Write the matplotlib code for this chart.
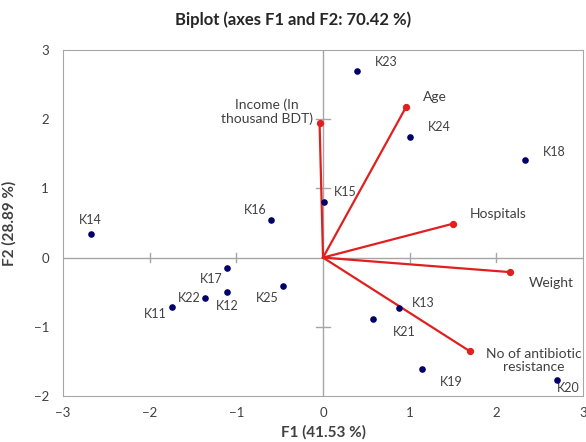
import matplotlib.pyplot as plt

# observations (F1, F2)
obs_labels = ['K23', 'K24', 'K18', 'K15', 'K16', 'K14', 'K17', 'K12',
              'K22', 'K11', 'K25', 'K13', 'K21', 'K19', 'K20']
obs_f1 = [0.39, 1.00, 2.33, 0.01, -0.60, -2.68, -1.11, -1.11,
          -1.36, -1.74, -0.46, 0.88, 0.58, 1.14, 2.70]
obs_f2 = [2.69, 1.74, 1.41, 0.81, 0.54, 0.34, -0.15, -0.50,
          -0.59, -0.72, -0.41, -0.73, -0.89, -1.61, -1.77]

# variables (loadings, scaled)
var_labels = ['Income (In\nthousand BDT)', 'Age', 'Hospitals', 'Weight',
              'No of antibiotic\nresistance']
var_f1 = [-0.04, 0.96, 1.50, 2.16, 1.69]
var_f2 = [1.95, 2.18, 0.49, -0.21, -1.35]

# label offsets in points (dx, dy, ha)
obs_offsets = {
    'K23': (13, 7, 'left'),
    'K24': (13, 7, 'left'),
    'K18': (13, 6, 'left'),
    'K15': (7, 7, 'left'),
    'K16': (-3, 7, 'right'),
    'K14': (0, 10, 'center'),
    'K17': (-3, -8, 'right'),
    'K12': (0, -10, 'center'),
    'K22': (-3, 0, 'right'),
    'K11': (-4, -5, 'right'),
    'K25': (-3, -9, 'right'),
    'K13': (9, 4, 'left'),
    'K21': (14, -9, 'left'),
    'K19': (13, -9, 'left'),
    'K20': (0, -6, 'left'),
}
var_offsets = [(-5, 8, 'right'), (12, 7, 'left'), (12, 7, 'left'),
               (13, -8, 'left'), (12, -7, 'left')]

plt.rcParams['font.family'] = ['Lato', 'DejaVu Sans']
text_col = '#404040'
red = '#e0201f'

fig = plt.figure(figsize=(5.86, 4.42), dpi=100)
ax = fig.add_axes([0.1075, 0.104, 0.8875, 0.783])

ax.axhline(0, color='#a6a6a6', lw=1, zorder=1)
ax.axvline(0, color='#a6a6a6', lw=1, zorder=1)
# small tick marks on the centre axes
for t in [-2, -1, 1, 2]:
    ax.plot([t, t], [-0.06, 0.06], color='#a6a6a6', lw=1, zorder=1)
for t in [-1, 1, 2]:
    ax.plot([-0.08, 0.08], [t, t], color='#a6a6a6', lw=1, zorder=1)

for x, y in zip(var_f1, var_f2):
    ax.plot([0, x], [0, y], color=red, lw=1.6, zorder=2)
ax.scatter(var_f1, var_f2, s=18, color=red, zorder=3)
for lab, x, y, (dx, dy, ha) in zip(var_labels, var_f1, var_f2, var_offsets):
    ax.annotate(lab, (x, y), xytext=(dx, dy), textcoords='offset points',
                ha=ha, va='center', fontsize=10, color=text_col,
                multialignment='center', linespacing=1.1, annotation_clip=False)

ax.scatter(obs_f1, obs_f2, s=14, color='#000066', zorder=4)
for lab, x, y in zip(obs_labels, obs_f1, obs_f2):
    dx, dy, ha = obs_offsets[lab]
    ax.annotate(lab, (x, y), xytext=(dx, dy), textcoords='offset points',
                ha=ha, va='center', fontsize=9, color=text_col)

ax.set_xlim(-3, 3)
ax.set_ylim(-2, 3)
ax.set_xticks([-3, -2, -1, 0, 1, 2, 3])
ax.set_yticks([-2, -1, 0, 1, 2, 3])
ax.tick_params(axis='x', length=0, labelsize=9.5, colors=text_col, pad=8)
ax.tick_params(axis='y', length=0, labelsize=9.5, colors=text_col, pad=10)
for s in ax.spines.values():
    s.set_color('#a6a6a6')

ax.set_xlabel('F1 (41.53 %)', fontsize=11, fontweight='bold', color=text_col)
ax.xaxis.set_label_coords(0.5, -0.105, transform=ax.transAxes)
ax.xaxis.label.set_va('center')
ax.set_ylabel('F2 (28.89 %)', fontsize=11, fontweight='bold', color=text_col, labelpad=12)
fig.suptitle('Biplot (axes F1 and F2: 70.42 %)', fontsize=12, fontweight='bold',
             color='#262626', y=0.975)

fig.savefig('out.png', dpi=100)
